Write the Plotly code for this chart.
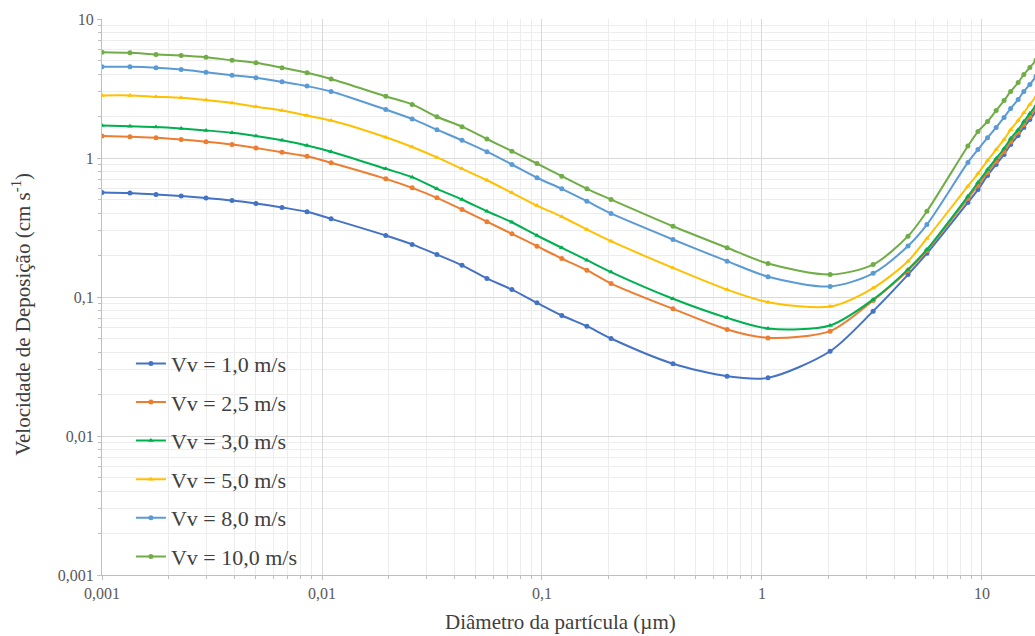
import plotly.graph_objects as go

# Particle diameter (µm)
diametro = [0.001, 0.00134, 0.00176, 0.00229, 0.00297, 0.0039, 0.00501, 0.00658, 0.00855, 0.011,
            0.0195, 0.0257, 0.0333, 0.0433, 0.0562, 0.073, 0.0949, 0.123, 0.160, 0.206,
            0.394, 0.694, 1.065, 2.04, 3.2, 4.61, 5.62,
            8.63, 9.59, 10.6, 11.6, 12.6, 13.5, 14.6, 15.5, 16.5, 17.6]

# Deposition velocity (cm/s) per wind speed
vv_1_0 = [0.565, 0.560, 0.546, 0.533, 0.516, 0.495, 0.471, 0.441, 0.410, 0.365,
          0.277, 0.239, 0.202, 0.169, 0.136, 0.113, 0.0908, 0.0736, 0.0617, 0.0503,
          0.0331, 0.0269, 0.0262, 0.0407, 0.0791, 0.145, 0.206,
          0.479, 0.593, 0.748, 0.898, 1.06, 1.25, 1.45, 1.66, 1.89, 2.16]
vv_2_5 = [1.44, 1.42, 1.40, 1.36, 1.31, 1.25, 1.18, 1.10, 1.03, 0.924,
          0.708, 0.610, 0.517, 0.426, 0.348, 0.285, 0.232, 0.189, 0.156, 0.125,
          0.0822, 0.0584, 0.0508, 0.0568, 0.0944, 0.155, 0.216,
          0.511, 0.634, 0.787, 0.944, 1.11, 1.31, 1.53, 1.74, 1.99, 2.27]
vv_3_0 = [1.71, 1.69, 1.67, 1.63, 1.58, 1.52, 1.44, 1.34, 1.23, 1.11,
          0.836, 0.728, 0.600, 0.503, 0.414, 0.345, 0.277, 0.226, 0.184, 0.151,
          0.0971, 0.0708, 0.0593, 0.0624, 0.0960, 0.158, 0.220,
          0.531, 0.667, 0.826, 0.992, 1.17, 1.38, 1.60, 1.83, 2.09, 2.39]
vv_5_0 = [2.82, 2.82, 2.76, 2.71, 2.61, 2.49, 2.34, 2.20, 2.02, 1.86,
          1.41, 1.20, 1.01, 0.836, 0.692, 0.562, 0.455, 0.378, 0.306, 0.252,
          0.162, 0.113, 0.0918, 0.0855, 0.116, 0.181, 0.264,
          0.627, 0.773, 0.959, 1.15, 1.36, 1.60, 1.86, 2.12, 2.43, 2.77]
vv_8_0 = [4.53, 4.53, 4.46, 4.33, 4.14, 3.94, 3.78, 3.53, 3.29, 3.01,
          2.23, 1.91, 1.60, 1.34, 1.11, 0.898, 0.721, 0.600, 0.489, 0.399,
          0.259, 0.181, 0.140, 0.119, 0.148, 0.233, 0.332,
          0.929, 1.15, 1.40, 1.66, 1.96, 2.27, 2.64, 3.01, 3.38, 3.86]
vv_10_0 = [5.77, 5.71, 5.56, 5.46, 5.31, 5.05, 4.84, 4.46, 4.10, 3.70,
           2.78, 2.43, 1.98, 1.68, 1.37, 1.12, 0.913, 0.740, 0.600, 0.503,
           0.323, 0.226, 0.174, 0.145, 0.171, 0.274, 0.414,
           1.22, 1.55, 1.83, 2.20, 2.59, 3.01, 3.49, 3.99, 4.48, 5.03]

series_names = ["Vv = 1,0 m/s", "Vv = 2,5 m/s", "Vv = 3,0 m/s",
                "Vv = 5,0 m/s", "Vv = 8,0 m/s", "Vv = 10,0 m/s"]
series_values = [vv_1_0, vv_2_5, vv_3_0, vv_5_0, vv_8_0, vv_10_0]
series_colors = ["#4472C4", "#ED7D31", "#00B050", "#FFC000", "#5B9BD5", "#70AD47"]
series_symbols = ["circle", "circle", "triangle-up", "triangle-up", "circle", "circle"]

x_tickvals = [0.001, 0.01, 0.1, 1, 10]
x_ticktext = ["0,001", "0,01", "0,1", "1", "10"]
y_tickvals = [0.001, 0.01, 0.1, 1, 10]
y_ticktext = ["0,001", "0,01", "0,1", "1", "10"]

minor_x = [k * 10 ** e for e in range(-3, 2) for k in range(2, 10)]
minor_y = [k * 10 ** e for e in range(-3, 1) for k in range(2, 10)]

SERIF = "Liberation Serif, Times New Roman, serif"

fig = go.Figure()
for i, (name, vals, col, sym) in enumerate(zip(series_names, series_values, series_colors, series_symbols)):
    fig.add_trace(go.Scatter(
        x=diametro, y=vals, name=name, mode="lines+markers",
        line=dict(color=col, width=2, shape="spline", smoothing=0.8),
        marker=dict(color=col, size=5, symbol=sym),
        legendgroup=f"g{i}",
    ))

axis_common = dict(
    type="log",
    showline=True, linecolor="#BFBFBF", linewidth=1,
    ticks="outside", ticklen=4, tickcolor="#BFBFBF",
    tickfont=dict(family=SERIF, size=16, color="#595959"),
    showgrid=True, gridcolor="#D9D9D9", gridwidth=1,
    zeroline=False, tickmode="array",
)

fig.update_xaxes(
    **axis_common,
    range=[-3, 1.241],
    tickvals=x_tickvals, ticktext=x_ticktext,
    ticklabelstandoff=0,
    minor=dict(tickmode="array", tickvals=minor_x, ticks="outside", ticklen=3,
               tickcolor="#BFBFBF", showgrid=True, gridcolor="#EDEDED"),
)
fig.update_yaxes(
    **axis_common,
    range=[-3, 1],
    tickvals=y_tickvals, ticktext=y_ticktext,
    minor=dict(tickmode="array", tickvals=minor_y, ticks="outside", ticklen=3,
               tickcolor="#BFBFBF", showgrid=True, gridcolor="#EDEDED"),
)

fig.update_layout(
    width=1035, height=636,
    margin=dict(l=102, r=0, t=19, b=61, autoexpand=False),
    plot_bgcolor="white", paper_bgcolor="white",
    showlegend=True,
    legend=dict(x=0.031, y=0.418, xanchor="left", yanchor="top",
                bgcolor="rgba(255,255,255,0)", borderwidth=0,
                font=dict(family=SERIF, size=22, color="#404040"),
                tracegroupgap=7, itemwidth=30),
    annotations=[
        dict(text="Diâmetro da partícula (µm)", xref="paper", yref="paper",
             x=0.491, y=-0.0845, xanchor="center", yanchor="middle", showarrow=False,
             font=dict(family=SERIF, size=21, color="#404040")),
        dict(text="Velocidade de Deposição (cm s<sup>-1</sup>)", xref="paper", yref="paper",
             x=-0.0857, y=0.468, xanchor="center", yanchor="middle", textangle=-90, showarrow=False,
             font=dict(family=SERIF, size=21, color="#404040")),
    ],
)

# remove the default page margin so the figure sits at the window's top-left corner
fig.write_html("out.html", config=dict(displayModeBar=False),
               post_script="document.body.style.margin='0';document.body.style.overflow='hidden';")
